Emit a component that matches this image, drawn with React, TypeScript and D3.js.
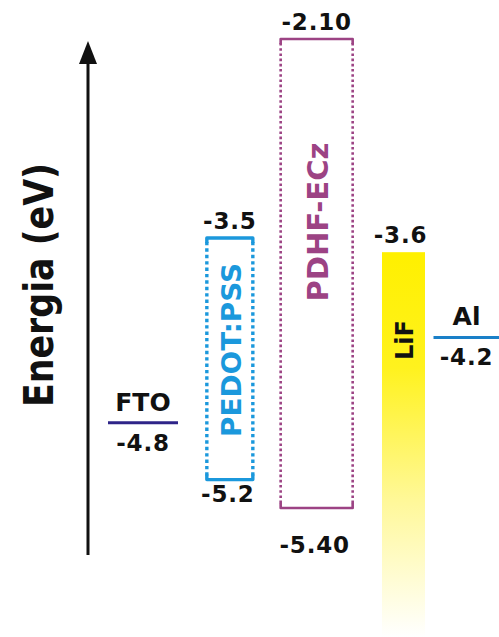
import React from "react";
import * as d3 from "d3";

// ---- data ----
const materials = ["FTO", "PEDOT:PSS", "PDHF-ECz", "LiF", "Al"];
const upperLevels: (number | null)[] = [null, -3.5, -2.1, -3.6, null];
const lowerLevels: (number | null)[] = [null, -5.2, -5.4, null, null];
const workFunctions: (number | null)[] = [-4.8, null, null, null, -4.2];
const upperLabels = ["", "-3.5", "-2.10", "-3.6", ""];
const lowerLabels = ["", "-5.2", "-5.40", "", ""];
const wfLabels = ["-4.8", "", "", "", "-4.2"];
const axisTitle = "Energia (eV)";

const W = 499;
const H = 637;
const FONT = "'Comic Sans MS', 'DejaVu Sans', sans-serif";

const colors: Record<string, string> = {
  FTO: "#2e2488",
  "PEDOT:PSS": "#1b98dc",
  "PDHF-ECz": "#9c4384",
  LiF: "#fff000",
  Al: "#1a80c8",
};
const widths: Record<string, number> = {
  FTO: 70,
  "PEDOT:PSS": 46,
  "PDHF-ECz": 72,
  LiF: 43,
  Al: 70,
};

export default function App() {
  const y = d3.scaleLinear().domain([-2.1, -5.4]).range([39, 508]);
  const xp = d3
    .scalePoint<string>()
    .domain(materials.slice(0, 4))
    .range([143, 403.5]);
  const xc = (m: string) => (m === "Al" ? (xp("LiF") as number) + 63 : (xp(m) as number));

  const numStyle = { fontFamily: FONT, fontWeight: 700, fontSize: 23, letterSpacing: 0.8 } as const;

  return (
    <svg
      width={W}
      height={H}
      style={{ position: "absolute", left: 0, top: 0, background: "#fff" }}
    >
      <defs>
        <linearGradient id="lifGrad" x1="0" y1="0" x2="0" y2="1">
          <stop offset="0" stopColor="#fff000" />
          <stop offset="0.3" stopColor="#fff21e" />
          <stop offset="0.65" stopColor="#fff89a" />
          <stop offset="1" stopColor="#ffffff" />
        </linearGradient>
      </defs>

      {/* energy axis arrow */}
      <line x1={88} x2={88} y1={555} y2={60} stroke="#111" strokeWidth={3} />
      <path d="M88,41 L79,64 L97,64 Z" fill="#111" />
      <text
        transform={`translate(53,285) rotate(-90)`}
        textAnchor="middle"
        fontFamily={FONT}
        fontWeight={700}
        fontSize={40}
        textLength={244}
        lengthAdjust="spacingAndGlyphs"
        fill="#111"
      >
        {axisTitle}
      </text>

      {materials.map((m, i) => {
        const cx = xc(m);
        const w = widths[m];
        const x0 = cx - w / 2;
        const x1 = cx + w / 2;
        const col = colors[m];
        const up = upperLevels[i];
        const lo = lowerLevels[i];
        const wf = workFunctions[i];
        const els: React.ReactNode[] = [];

        if (wf !== null) {
          const yy = y(wf);
          const lx0 = m === "Al" ? cx - 33 : x0;
          const lx1 = m === "Al" ? W + 2 : x1;
          els.push(
            <line key="wf" x1={lx0} x2={lx1} y1={yy} y2={yy} stroke={col} strokeWidth={3} />,
            <text key="name" x={cx} y={yy - 12} textAnchor="middle" fontFamily={FONT} fontWeight={700} fontSize={25} fill="#111">
              {m}
            </text>,
            <text key="val" x={cx} y={yy + 28} textAnchor="middle" {...numStyle} fill="#111">
              {wfLabels[i]}
            </text>
          );
        }

        if (up !== null && lo !== null) {
          const yt = y(up);
          const yb = y(lo);
          const sw = m === "PEDOT:PSS" ? 3.4 : 2.6;
          const dash = m === "PEDOT:PSS" ? "3.4 3" : "2.6 2.6";
          els.push(
            <line key="l" x1={x0} x2={x0} y1={yt + 4} y2={yb - 4} stroke={col} strokeWidth={sw} strokeDasharray={dash} />,
            <line key="r" x1={x1} x2={x1} y1={yt + 4} y2={yb - 4} stroke={col} strokeWidth={sw} strokeDasharray={dash} />,
            <path key="t" d={`M${x0},${yt + 5} L${x0},${yt} L${x1},${yt} L${x1},${yt + 5}`} fill="none" stroke={col} strokeWidth={sw} strokeLinejoin="round" />,
            <path key="b" d={`M${x0},${yb - 5} L${x0},${yb} L${x1},${yb} L${x1},${yb - 5}`} fill="none" stroke={col} strokeWidth={sw} strokeLinejoin="round" />,
            <text key="ut" x={cx} y={yt - 9} textAnchor="middle" {...numStyle} fill="#111">
              {upperLabels[i]}
            </text>,
            <text key="lt" x={cx - 2} y={yb + (m === "PDHF-ECz" ? 45 : 22)} textAnchor="middle" {...numStyle} fill="#111">
              {lowerLabels[i]}
            </text>,
            <text
              key="nm"
              transform={`translate(${cx + 11},${m === "PEDOT:PSS" ? 350 : 222}) rotate(-90)`}
              textAnchor="middle"
              fontFamily={FONT}
              fontWeight={700}
              fontSize={m === "PEDOT:PSS" ? 27 : 29}
              textLength={m === "PEDOT:PSS" ? 174 : 159}
              lengthAdjust="spacingAndGlyphs"
              fill={col}
            >
              {m}
            </text>
          );
        }

        if (up !== null && lo === null) {
          const yt = y(up);
          els.push(
            <rect key="bar" x={x0} y={yt} width={w} height={H - yt} fill="url(#lifGrad)" />,
            <text key="ut" x={cx - 3} y={yt - 9} textAnchor="middle" {...numStyle} fill="#111">
              {upperLabels[i]}
            </text>,
            <text
              key="nm"
              transform={`translate(${cx + 9},340) rotate(-90)`}
              textAnchor="middle"
              fontFamily={FONT}
              fontWeight={700}
              fontSize={24}
              fill="#111"
            >
              {m}
            </text>
          );
        }

        return <g key={m}>{els}</g>;
      })}
    </svg>
  );
}
